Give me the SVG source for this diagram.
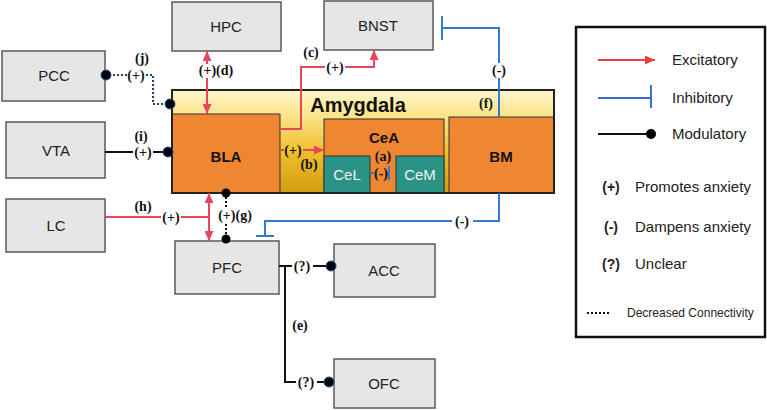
<svg xmlns="http://www.w3.org/2000/svg" width="767" height="410" viewBox="0 0 767 410">
<style>
.box{fill:#E6E6E6;stroke:#5a5a5a;stroke-width:1.5}
.sub{fill:#EF8632;stroke:#333;stroke-width:1}
.teal{fill:#2A9386;stroke:#333;stroke-width:1}
.lbl{font-family:"Liberation Sans",Arial,sans-serif;font-size:15px;fill:#222;text-anchor:middle}
.blbl{font-family:"Liberation Sans",Arial,sans-serif;font-size:15px;font-weight:bold;fill:#111;text-anchor:middle}
.wlbl{font-family:"Liberation Sans",Arial,sans-serif;font-size:15px;fill:#f2f2f2;text-anchor:middle}
.cl{font-family:"Liberation Serif","Times New Roman",serif;font-size:14px;font-weight:bold;fill:#111;text-anchor:middle}
.ex{fill:none;stroke:#E8465A;stroke-width:2}
.in{fill:none;stroke:#2E7BCF;stroke-width:2}
.mo{fill:none;stroke:#111;stroke-width:2}
.dotb{fill:none;stroke:#1F3D7A;stroke-width:2;stroke-dasharray:2 2}
.dotk{fill:none;stroke:#111;stroke-width:2;stroke-dasharray:2 2}
.dot{fill:#000;stroke:#1F4FA0;stroke-width:1}
.leg{font-family:"Liberation Sans",Arial,sans-serif;font-size:15px;fill:#222}
.legs{font-family:"Liberation Sans",Arial,sans-serif;font-size:14px;font-weight:bold;fill:#222;text-anchor:middle}
</style>
<defs>
<linearGradient id="amyg" x1="0" y1="0" x2="0" y2="1">
<stop offset="0" stop-color="#FFF6CC"/>
<stop offset="0.25" stop-color="#FBE48A"/>
<stop offset="0.6" stop-color="#EFBE2C"/>
<stop offset="1" stop-color="#D09E10"/>
</linearGradient>
<marker id="arr" viewBox="0 0 10 9" refX="10" refY="4.5" markerWidth="10" markerHeight="9" markerUnits="userSpaceOnUse" orient="auto">
<path d="M0,0 L10,4.5 L0,9 z" fill="#E8465A"/>
</marker>
<marker id="arrL" viewBox="0 0 10 9" refX="10" refY="4.5" markerWidth="10" markerHeight="9" markerUnits="userSpaceOnUse" orient="auto">
<path d="M0,0 L10,4.5 L0,9 z" fill="#E84040"/>
</marker>
</defs>

<g id="amygdala">
<rect x="172" y="90" width="382" height="103" fill="url(#amyg)" stroke="#222" stroke-width="2"/>
<text x="358" y="112" font-family="'Liberation Sans',Arial,sans-serif" font-size="20" font-weight="bold" fill="#111" text-anchor="middle">Amygdala</text>
</g>
<g id="BLA">
<rect class="sub" x="172" y="114" width="108" height="79"/>
<text class="blbl" x="226" y="162">BLA</text>
</g>
<g id="CeA">
<rect class="sub" x="324" y="119" width="120" height="74"/>
<text class="blbl" x="384" y="143">CeA</text>
</g>
<g id="CeL">
<rect class="teal" x="324" y="156" width="46" height="37"/>
<text class="wlbl" x="347" y="180">CeL</text>
</g>
<g id="CeM">
<rect class="teal" x="396" y="156" width="48" height="37"/>
<text class="wlbl" x="420" y="180">CeM</text>
</g>
<g id="BM">
<rect class="sub" x="449" y="117" width="105" height="76"/>
<text class="blbl" x="501" y="162">BM</text>
</g>
<rect x="172" y="90" width="382" height="103" fill="none" stroke="#222" stroke-width="2"/>

<g id="HPC"><rect class="box" x="172" y="2" width="109" height="49"/><text class="lbl" x="226" y="32">HPC</text></g>
<g id="BNST"><rect class="box" x="324" y="1" width="109" height="49"/><text class="lbl" x="378" y="31">BNST</text></g>
<g id="PCC"><rect class="box" x="2" y="51" width="103" height="50"/><text class="lbl" x="54" y="81">PCC</text></g>
<g id="VTA"><rect class="box" x="6" y="122" width="99" height="56"/><text class="lbl" x="56" y="156">VTA</text></g>
<g id="LC"><rect class="box" x="6" y="199" width="99" height="53"/><text class="lbl" x="56" y="231">LC</text></g>
<g id="PFC"><rect class="box" x="175" y="241" width="104" height="53"/><text class="lbl" x="227" y="273">PFC</text></g>
<g id="ACC"><rect class="box" x="334" y="244" width="101" height="53"/><text class="lbl" x="384" y="276">ACC</text></g>
<g id="OFC"><rect class="box" x="334" y="359" width="101" height="49"/><text class="lbl" x="384" y="389">OFC</text></g>

<g id="connectors">
<!-- (d) HPC <-> BLA -->
<path class="ex" d="M207,64 V51" marker-end="url(#arr)"/>
<path class="ex" d="M207,78 V114" marker-end="url(#arr)"/>
<text class="cl" x="216" y="75">(+)(d)</text>
<!-- (c) BLA -> BNST -->
<path class="ex" d="M280,129 H301 V67 H325"/>
<path class="ex" d="M345,67 H374 V50" marker-end="url(#arr)"/>
<text class="cl" x="335" y="72">(+)</text>
<text class="cl" x="311" y="57">(c)</text>
<!-- (b) BLA -> CeA -->
<path class="ex" d="M280,150 H284"/>
<path class="ex" d="M303,150 H324" marker-end="url(#arr)"/>
<text class="cl" x="293" y="155">(+)</text>
<text class="cl" x="309" y="169">(b)</text>
<!-- (a) CeL -| CeM -->
<path class="in" d="M370,173 H374 M387,173 H389 M389,166 V180"/>
<text class="cl" x="381" y="178">(-)</text>
<text class="cl" x="383" y="161">(a)</text>
<!-- (f) BM -| BNST -->
<path class="in" d="M499,117 V78 M499,63 V28 H442 M442,16 V40"/>
<text class="cl" x="499" y="75">(-)</text>
<text class="cl" x="486" y="108">(f)</text>
<!-- BM -| PFC -->
<path class="in" d="M499,193 V221 H473 M452,221 H265 V236 M256,236 H274"/>
<text class="cl" x="462" y="226">(-)</text>
<!-- (j) PCC - BLA decreased -->
<path class="dotb" d="M105,75 H127 M146,75 H153 V104 H169"/>
<circle class="dot" cx="106" cy="75" r="5"/>
<circle class="dot" cx="170" cy="104" r="5"/>
<text class="cl" x="136" y="80">(+)</text>
<text class="cl" x="142" y="63">(j)</text>
<!-- (i) VTA - BLA -->
<path class="mo" d="M105,152 H133 M153,152 H168"/>
<circle class="dot" cx="168" cy="152" r="5"/>
<text class="cl" x="143" y="157">(+)</text>
<text class="cl" x="141" y="141">(i)</text>
<!-- (h) LC -> BLA/PFC -->
<path class="ex" d="M105,217 H161 M181,217 H209"/>
<path class="ex" d="M209,217 V193" marker-end="url(#arr)"/>
<path class="ex" d="M209,217 V241" marker-end="url(#arr)"/>
<text class="cl" x="171" y="222">(+)</text>
<text class="cl" x="143" y="211">(h)</text>
<!-- (g) BLA - PFC decreased -->
<path class="dotk" d="M226,193 V207 M226,224 V239"/>
<circle cx="226" cy="193" r="4.5" fill="#000"/>
<circle cx="226" cy="239" r="4.5" fill="#000"/>
<text class="cl" x="235" y="220">(+)(g)</text>
<!-- PFC - ACC / OFC (e) -->
<path class="mo" d="M279,266 H292 M313,266 H331 M285,266 V382 H296 M317,382 H329"/>
<circle class="dot" cx="331" cy="266" r="5"/>
<circle class="dot" cx="329" cy="382" r="5"/>
<text class="cl" x="302" y="271">(?)</text>
<text class="cl" x="306" y="387">(?)</text>
<text class="cl" x="300" y="330">(e)</text>
</g>

<g id="legend">
<rect x="576" y="27" width="189" height="310" fill="#fff" stroke="#111" stroke-width="2.5"/>
<path d="M598,60 H655" stroke="#E84040" stroke-width="2" marker-end="url(#arrL)"/>
<text class="leg" x="672" y="65">Excitatory</text>
<path d="M598,98 H651 M651,85 V108" stroke="#3A6FD0" stroke-width="2" fill="none"/>
<text class="leg" x="672" y="103">Inhibitory</text>
<path d="M598,134 H650" stroke="#111" stroke-width="2"/>
<circle cx="651" cy="134" r="5" fill="#000"/>
<text class="leg" x="672" y="139">Modulatory</text>
<text class="legs" x="611" y="192">(+)</text>
<text class="leg" x="635" y="192">Promotes anxiety</text>
<text class="legs" x="611" y="232">(-)</text>
<text class="leg" x="635" y="232">Dampens anxiety</text>
<text class="legs" x="611" y="269">(?)</text>
<text class="leg" x="635" y="269">Unclear</text>
<path d="M587,313 H611" stroke="#111" stroke-width="2" stroke-dasharray="2 2"/>
<text x="627" y="317" font-family="'Liberation Sans',Arial,sans-serif" font-size="12" fill="#222">Decreased Connectivity</text>
</g>
</svg>
